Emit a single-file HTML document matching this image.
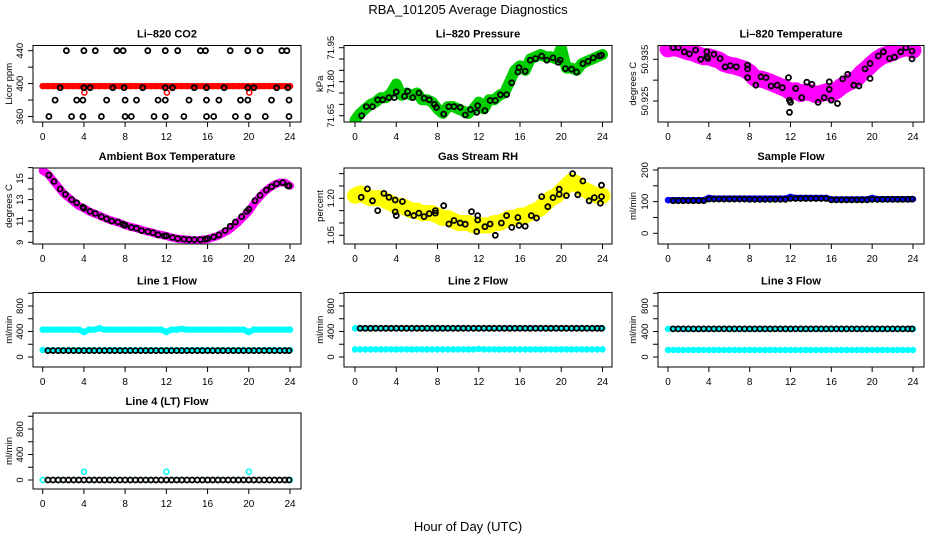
<!DOCTYPE html>
<html><head><meta charset="utf-8">
<style>
html,body{margin:0;padding:0;background:#fff;}
svg{display:block;font-family:"Liberation Sans",sans-serif;}
.t{font-size:11px;font-weight:bold;text-anchor:middle;}
.tk{font-size:10px;text-anchor:middle;}
.yl{font-size:9.5px;text-anchor:middle;}
</style></head>
<body>
<svg id="chart" width="936" height="540" viewBox="0 0 936 540" xmlns="http://www.w3.org/2000/svg">
<text x="468" y="14" font-size="13" text-anchor="middle">RBA_101205  Average Diagnostics</text>
<text x="468" y="531" font-size="13" text-anchor="middle">Hour of Day (UTC)</text>
</svg>
<script>
const xTicks=[0,4,8,12,16,20,24];
const bandHours=[0,0.5,1,1.5,2,2.5,3,3.5,4,4.5,5,5.5,6,6.5,7,7.5,8,8.5,9,9.5,10,10.5,11,11.5,12,12.5,13,13.5,14,14.5,15,15.5,16,16.5,17,17.5,18,18.5,19,19.5,20,20.5,21,21.5,22,22.5,23,23.5,24];
const blackHours=[0.5,1,1.5,2,2.5,3,3.5,4,4.5,5,5.5,6,6.5,7,7.5,8,8.5,9,9.5,10,10.5,11,11.5,12,12.5,13,13.5,14,14.5,15,15.5,16,16.5,17,17.5,18,18.5,19,19.5,20,20.5,21,21.5,22,22.5,23,23.5,23.9];

// CO2
const co2BlackX=[2.3,4.0,5.1,7.2,7.8,10.2,11.9,13.1,15.3,15.8,18.2,19.9,21.1,23.2,23.7, 1.7,4.0,4.6,6.8,7.9,9.7,11.9,12.6,14.7,15.9,17.6,19.9,20.5,22.7,23.8, 1.2,3.3,3.9,6.2,8.0,9.1,11.2,11.9,14.2,15.9,17.1,19.2,19.9,22.2,23.9, 0.6,2.8,3.9,5.7,8.0,8.6,10.8,11.9,13.7,15.9,16.6,18.7,19.9,21.6,23.9];
const co2BlackY=[440,440,440,440,440,440,440,440,440,440,440,440,440,440,440, 395,395,395,395,395,395,395,395,395,395,395,395,395,395,395, 380,380,380,380,380,380,380,380,380,380,380,380,380,380,380, 360,360,360,360,360,360,360,360,360,360,360,360,360,360,360];
const co2Red=[397,397,397,397,397,397,397,397,397,397,397,397,397,397,397,397,397,397,397,397,397,397,397,397,397,397,397,397,397,397,397,397,397,397,397,397,397,397,397,397,397,397,397,397,397,397,397,397,397];
const co2RedDipX=[4.05,12.05,20.05];
const co2RedDipY=[389,389,389];

// Pressure
const presBlackX=[0.65,1.1,1.7,2.2,2.7,3.3,3.8,4.0,4.8,5.1,5.6,6.2,6.7,7.2,7.7,7.9,8.6,9.1,9.6,10.2,10.7,11.2,11.8,11.9,12.6,13.1,13.6,14.1,14.7,15.2,15.8,15.9,16.5,17.0,17.5,18.1,18.6,19.2,19.7,19.9,20.4,21.0,21.5,22.1,22.6,23.1,23.7,23.9];
const presBlackY=[71.65,71.69,71.69,71.72,71.72,71.73,71.73,71.755,71.735,71.757,71.73,71.75,71.727,71.72,71.70,71.687,71.657,71.69,71.69,71.687,71.653,71.677,71.665,71.694,71.672,71.717,71.717,71.742,71.743,71.795,71.843,71.862,71.846,71.895,71.902,71.913,71.895,71.905,71.885,71.895,71.858,71.855,71.843,71.88,71.89,71.905,71.914,71.917];
const presGreen=[71.63,71.66,71.68,71.70,71.71,71.73,71.73,71.75,71.79,71.74,71.75,71.74,71.75,71.72,71.72,71.71,71.68,71.66,71.69,71.69,71.68,71.67,71.66,71.68,71.71,71.68,71.72,71.72,71.74,71.75,71.80,71.85,71.87,71.85,71.90,71.91,71.92,71.91,71.91,71.90,71.95,71.86,71.86,71.85,71.88,71.89,71.90,71.91,71.92];

// Li-820 temperature
const tempBlackX=[0.5,1.0,1.6,2.1,2.7,3.2,3.8,3.8,3.9,4.5,5.1,5.6,6.1,6.7,7.8,7.8,7.8,8.6,9.1,9.6,10.1,10.7,11.2,11.8,11.9,12.0,11.9,12.5,13.1,13.6,14.1,14.7,15.3,15.8,15.8,16.0,16.6,17.1,17.6,18.2,18.7,19.3,19.8,19.8,20.6,21.1,21.7,22.2,22.8,23.3,23.9,23.9];
const tempBlackY=[50.9378,50.9378,50.9368,50.9363,50.9372,50.935,50.9368,50.9356,50.9352,50.9362,50.9352,50.9332,50.9335,50.9332,50.9336,50.9327,50.9306,50.9288,50.9308,50.9306,50.9286,50.9288,50.9282,50.9306,50.9252,50.9247,50.9223,50.9280,50.9258,50.9295,50.929,50.9247,50.9258,50.9296,50.9278,50.9252,50.9244,50.9303,50.9314,50.9288,50.9286,50.9327,50.934,50.9304,50.9358,50.9368,50.9352,50.9355,50.9368,50.9378,50.937,50.9351];
const tempMagenta=[50.9375,50.9378,50.9376,50.9372,50.9368,50.9365,50.9360,50.9356,50.9356,50.9352,50.9348,50.9340,50.9336,50.9334,50.9330,50.9326,50.9318,50.9305,50.9303,50.9300,50.9295,50.9290,50.9285,50.9280,50.9272,50.9275,50.9268,50.9272,50.9270,50.9265,50.9268,50.9272,50.9268,50.9275,50.9285,50.9292,50.9298,50.9305,50.9318,50.9328,50.9340,50.9350,50.9358,50.9362,50.9366,50.9372,50.9376,50.9378,50.9372];

// Ambient box temperature
const ambBlackX=[0.6,1.1,1.7,2.2,2.8,3.3,3.9,4.0,4.6,5.1,5.7,6.2,6.7,7.3,7.8,8.0,8.6,9.1,9.6,10.2,10.7,11.2,11.8,12.0,12.6,13.1,13.7,14.2,14.7,15.3,15.8,16.0,16.6,17.1,17.7,18.2,18.7,19.3,19.8,20.0,20.6,21.1,21.7,22.2,22.7,23.3,23.8,23.9];
const ambBlackY=[15.3,14.7,14.0,13.5,13.0,12.7,12.3,12.2,11.9,11.7,11.4,11.2,11.0,10.9,10.7,10.6,10.4,10.3,10.1,10.0,9.9,9.7,9.6,9.6,9.45,9.35,9.3,9.25,9.25,9.25,9.3,9.35,9.5,9.7,10.1,10.5,10.9,11.4,11.9,12.1,12.9,13.4,13.9,14.2,14.5,14.6,14.3,14.3];
const ambMagenta=[15.7,15.4,14.8,14.2,13.6,13.2,12.8,12.4,12.2,11.9,11.7,11.5,11.3,11.1,10.95,10.8,10.6,10.45,10.35,10.2,10.05,9.95,9.8,9.7,9.6,9.45,9.35,9.3,9.25,9.2,9.2,9.25,9.3,9.45,9.6,9.85,10.1,10.5,10.9,11.4,11.9,12.6,13.2,13.7,14.1,14.4,14.6,14.6,14.3];

// Gas stream RH
const rhBlackX=[0.6,1.2,1.7,2.2,2.8,3.3,3.9,3.9,4.0,4.6,5.1,5.7,6.2,6.7,7.2,7.8,7.8,8.6,9.1,9.6,10.2,10.7,11.3,11.8,11.9,11.9,12.6,13.1,13.6,14.2,14.7,15.2,15.8,15.9,16.5,17.1,17.6,18.1,18.7,19.2,19.8,19.8,20.5,21.1,21.6,22.1,22.7,23.2,23.8,23.9,23.9];
const rhBlackY=[1.204,1.238,1.19,1.15,1.22,1.204,1.193,1.145,1.13,1.187,1.14,1.13,1.14,1.126,1.138,1.15,1.14,1.17,1.096,1.11,1.10,1.095,1.146,1.065,1.13,1.112,1.085,1.096,1.05,1.10,1.13,1.082,1.122,1.09,1.087,1.13,1.12,1.207,1.166,1.203,1.237,1.216,1.211,1.30,1.214,1.27,1.19,1.203,1.18,1.253,1.207];
const rhYellow=[1.21,1.22,1.21,1.20,1.20,1.20,1.19,1.18,1.17,1.17,1.16,1.15,1.15,1.14,1.14,1.14,1.13,1.12,1.12,1.11,1.10,1.10,1.10,1.09,1.09,1.09,1.09,1.10,1.10,1.11,1.12,1.12,1.13,1.13,1.14,1.15,1.16,1.18,1.20,1.21,1.23,1.25,1.27,1.26,1.24,1.23,1.22,1.21,1.21];

// Sample flow
const sampleBlue=[105,105,105,105,105,105,105,105,112,110,110,110,110,110,110,110,110,110,110,110,110,110,110,110,115,112,112,112,112,112,112,112,107,107,107,107,107,107,107,107,112,108,108,108,108,108,108,108,108];
const sampleBlack=[103,103,103,103,103,103,103,108,108,108,108,108,108,108,108,107,107,107,107,107,107,107,107,110,110,110,110,110,110,110,110,106,106,106,106,106,106,106,106,107,107,107,107,107,107,107,107,108];

// Line flows
const line1CyanHigh=[430,430,430,430,430,430,430,430,390,430,430,450,430,430,430,430,430,430,430,430,430,430,430,430,390,430,430,440,430,430,430,430,430,430,430,430,430,430,430,430,390,430,430,430,430,430,430,430,430];
const line1CyanLow=[110,110,110,110,110,110,110,110,110,110,110,110,110,110,110,110,110,110,110,110,110,110,110,110,110,110,110,110,110,110,110,110,110,110,110,110,110,110,110,110,110,110,110,110,110,110,110,110,110];
const line1Black=[100,100,100,100,100,100,100,100,100,100,100,100,100,100,100,100,100,100,100,100,100,100,100,100,100,100,100,100,100,100,100,100,100,100,100,100,100,100,100,100,100,100,100,100,100,100,100,100];
const line2CyanHigh=[450,450,450,450,450,450,450,450,450,450,450,450,450,450,450,450,450,450,450,450,450,450,450,450,450,450,450,450,450,450,450,450,450,450,450,450,450,450,450,450,450,450,450,450,450,450,450,450,450];
const line2CyanLow=[120,120,120,120,120,120,120,120,120,120,120,120,120,120,120,120,120,120,120,120,120,120,120,120,125,120,120,120,120,120,120,120,120,120,120,120,120,120,120,120,120,120,120,120,120,120,120,120,120];
const line2Black=[450,450,450,450,450,450,450,450,450,450,450,450,450,450,450,450,450,450,450,450,450,450,450,450,450,450,450,450,450,450,450,450,450,450,450,450,450,450,450,450,450,450,450,450,450,450,450,450];
const line3CyanHigh=[440,440,440,440,440,440,440,440,440,440,440,440,440,440,440,440,440,440,440,440,440,440,440,440,440,440,440,440,440,440,440,440,440,440,440,440,440,440,440,440,440,440,440,440,440,440,440,440,440];
const line3CyanLow=[110,110,110,110,110,110,110,110,110,110,110,110,110,110,110,110,110,110,110,110,110,110,110,110,110,110,110,110,110,110,110,110,110,110,110,110,110,110,110,110,110,110,110,110,110,110,110,110,110];
const line3Black=[440,440,440,440,440,440,440,440,440,440,440,440,440,440,440,440,440,440,440,440,440,440,440,440,440,440,440,440,440,440,440,440,440,440,440,440,440,440,440,440,440,440,440,440,440,440,440,440];
const line4Cyan=[0,0,0,0,0,0,0,0,130,0,0,0,0,0,0,0,0,0,0,0,0,0,0,0,130,0,0,0,0,0,0,0,0,0,0,0,0,0,0,0,130,0,0,0,0,0,0,0,0];
const line4Black=[0,0,0,0,0,0,0,0,0,0,0,0,0,0,0,0,0,0,0,0,0,0,0,0,0,0,0,0,0,0,0,0,0,0,0,0,0,0,0,0,0,0,0,0,0,0,0,0];

const NS='http://www.w3.org/2000/svg';
const svg=document.getElementById('chart');
function mk(tag,attrs,parent){const e=document.createElementNS(NS,tag);for(const k in attrs)e.setAttribute(k,attrs[k]);(parent||svg).appendChild(e);return e;}

const cols=[{bx0:33,bx1:301,a:42.7,b:290,tx:9},{bx0:344,bx1:612,a:355,b:602.5,tx:320},{bx0:658,bx1:924,a:668,b:913,tx:633}];
const rows=[{y0:45.5,y1:122},{y0:168,y1:244},{y0:292.5,y1:367},{y0:413,y1:489}];
const flowTicks=[0,200,400,600,800,1000], flowLabels=[0,400,800];

const panels=[
 {name:'li820-co2',title:'Li\u2013820 CO2',ytitle:'Licor ppm',c:0,r:0,v1:440,p1:50.7,v2:360,p2:116.5,ticks:[360,380,400,420,440],labels:[360,400,440],dec:0,
  series:[{x:bandHours,y:co2Red,color:'#ff0000',band:6},{x:co2RedDipX,y:co2RedDipY,color:'#ff0000',band:0},{x:co2BlackX,y:co2BlackY,color:'#000',band:0}]},
 {name:'li820-pressure',title:'Li\u2013820 Pressure',ytitle:'kPa',c:1,r:0,v1:71.95,p1:47.7,v2:71.65,p2:115.7,ticks:[71.65,71.70,71.75,71.80,71.85,71.90,71.95],labels:[71.65,71.80,71.95],dec:2,
  series:[{x:bandHours,y:presGreen,color:'#00cd00',band:11},{x:presBlackX,y:presBlackY,color:'#000',band:0}]},
 {name:'li820-temperature',title:'Li\u2013820 Temperature',ytitle:'degrees C',c:2,r:0,v1:50.935,p1:59.3,v2:50.925,p2:101,ticks:[50.925,50.930,50.935],labels:[50.925,50.935],dec:3,
  series:[{x:bandHours,y:tempMagenta,color:'#ff00ff',band:17},{x:tempBlackX,y:tempBlackY,color:'#000',band:0}]},
 {name:'ambient-box-temperature',title:'Ambient Box Temperature',ytitle:'degrees C',c:0,r:1,v1:15,p1:178.3,v2:9,p2:242.3,ticks:[9,10,11,12,13,14,15,16],labels:[9,11,13,15],dec:0,
  series:[{x:bandHours,y:ambMagenta,color:'#ff00ff',band:8},{x:ambBlackX,y:ambBlackY,color:'#000',band:0}]},
 {name:'gas-stream-rh',title:'Gas Stream RH',ytitle:'percent',c:1,r:1,v1:1.20,p1:198.3,v2:1.05,p2:235.3,ticks:[1.05,1.10,1.15,1.20,1.25,1.30],labels:[1.05,1.20],dec:2,
  series:[{x:bandHours,y:rhYellow,color:'#ffff00',band:16},{x:rhBlackX,y:rhBlackY,color:'#000',band:0}]},
 {name:'sample-flow',title:'Sample Flow',ytitle:'ml/min',c:2,r:1,v1:200,p1:170,v2:0,p2:233.3,ticks:[0,50,100,150,200],labels:[0,100,200],dec:0,
  series:[{x:bandHours,y:sampleBlue,color:'#0000ff',band:6},{x:blackHours,y:sampleBlack,color:'#000',band:0}]},
 {name:'line-1-flow',title:'Line 1 Flow',ytitle:'ml/min',c:0,r:2,v1:800,p1:306,v2:0,p2:357,ticks:flowTicks,labels:flowLabels,dec:0,
  series:[{x:bandHours,y:line1CyanHigh,color:'#00ffff',band:6},{x:bandHours,y:line1CyanLow,color:'#00ffff',band:4},{x:blackHours,y:line1Black,color:'#000',band:0}]},
 {name:'line-2-flow',title:'Line 2 Flow',ytitle:'ml/min',c:1,r:2,v1:800,p1:306,v2:0,p2:357,ticks:flowTicks,labels:flowLabels,dec:0,
  series:[{x:bandHours,y:line2CyanHigh,color:'#00ffff',band:5},{x:bandHours,y:line2CyanLow,color:'#00ffff',band:4},{x:blackHours,y:line2Black,color:'#000',band:0}]},
 {name:'line-3-flow',title:'Line 3 Flow',ytitle:'ml/min',c:2,r:2,v1:800,p1:306,v2:0,p2:357,ticks:flowTicks,labels:flowLabels,dec:0,
  series:[{x:bandHours,y:line3CyanHigh,color:'#00ffff',band:5},{x:bandHours,y:line3CyanLow,color:'#00ffff',band:4},{x:blackHours,y:line3Black,color:'#000',band:0}]},
 {name:'line-4-lt-flow',title:'Line 4 (LT) Flow',ytitle:'ml/min',c:0,r:3,v1:800,p1:429,v2:0,p2:480,ticks:flowTicks,labels:flowLabels,dec:0,
  series:[{x:bandHours,y:line4Cyan,color:'#00ffff',band:0},{x:blackHours,y:line4Black,color:'#000',band:0}]}
];

panels.forEach(p=>{
  const col=cols[p.c], row=rows[p.r];
  const xs=v=>col.a+(v/24)*(col.b-col.a);
  const ys=v=>p.p1+(v-p.v1)*(p.p2-p.p1)/(p.v2-p.v1);
  const g=mk('g',{});
  
  
  const clipId='clip-'+p.name;
  const cp=mk('clipPath',{id:clipId},g);
  mk('rect',{x:col.bx0,y:row.y0,width:col.bx1-col.bx0,height:row.y1-row.y0},cp);
  const plot=mk('g',{'clip-path':'url(#'+clipId+')'},g);
  
  
  p.series.forEach((s,si)=>{
    const sg=mk('g',{},plot);
    
    
    if(s.band>0){
      let d='';
      s.x.forEach((xv,i)=>{d+=(i?'L':'M')+xs(xv).toFixed(1)+' '+ys(s.y[i]).toFixed(1);});
      const pl=mk('path',{d:d,fill:'none',stroke:s.color,'stroke-width':s.band,'stroke-linejoin':'round','stroke-linecap':'round'},sg);
      
      
    }
    s.x.forEach((xv,i)=>{
      const c=mk('circle',{cx:xs(xv).toFixed(1),cy:ys(s.y[i]).toFixed(1),r:2.5,fill:'none',stroke:s.color,'stroke-width':s.color==='#000'?1.8:1.5},sg);
      
      
    });
  });
  const box=mk('rect',{x:col.bx0,y:row.y0,width:col.bx1-col.bx0,height:row.y1-row.y0,fill:'none',stroke:'#000','stroke-width':1},g);
  
  
  const t=mk('text',{x:(col.bx0+col.bx1)/2,y:row.y0-8,class:'t'},g);
  t.textContent=p.title;
  
  
  const xa=mk('g',{},g);
  
  
  mk('line',{x1:xs(0),x2:xs(24),y1:row.y1,y2:row.y1,stroke:'#000'},xa);
  xTicks.forEach(v=>{
    mk('line',{x1:xs(v),x2:xs(v),y1:row.y1,y2:row.y1+5,stroke:'#000'},xa);
    const l=mk('text',{x:xs(v),y:row.y1+18,class:'tk'},xa);
    l.textContent=v;
    
    
  });
  const ya=mk('g',{},g);
  
  
  const tmin=Math.min(...p.ticks), tmax=Math.max(...p.ticks);
  mk('line',{x1:col.bx0,x2:col.bx0,y1:ys(tmin),y2:ys(tmax),stroke:'#000'},ya);
  p.ticks.forEach(v=>{mk('line',{x1:col.bx0-5,x2:col.bx0,y1:ys(v),y2:ys(v),stroke:'#000'},ya);});
  p.labels.forEach(v=>{
    const lx=col.bx0-10, ly=ys(v);
    const l=mk('text',{x:lx,y:ly,class:'yl',transform:'rotate(-90 '+lx+' '+ly+')'},ya);
    l.textContent=v.toFixed(p.dec);
    
    
  });
  const cy=(row.y0+row.y1)/2;
  const tx=col.tx+3;
  const yt=mk('text',{x:tx,y:cy,class:'yl',transform:'rotate(-90 '+tx+' '+cy+')'},g);
  yt.textContent=p.ytitle;
  
  
});
</script>
</body></html>
